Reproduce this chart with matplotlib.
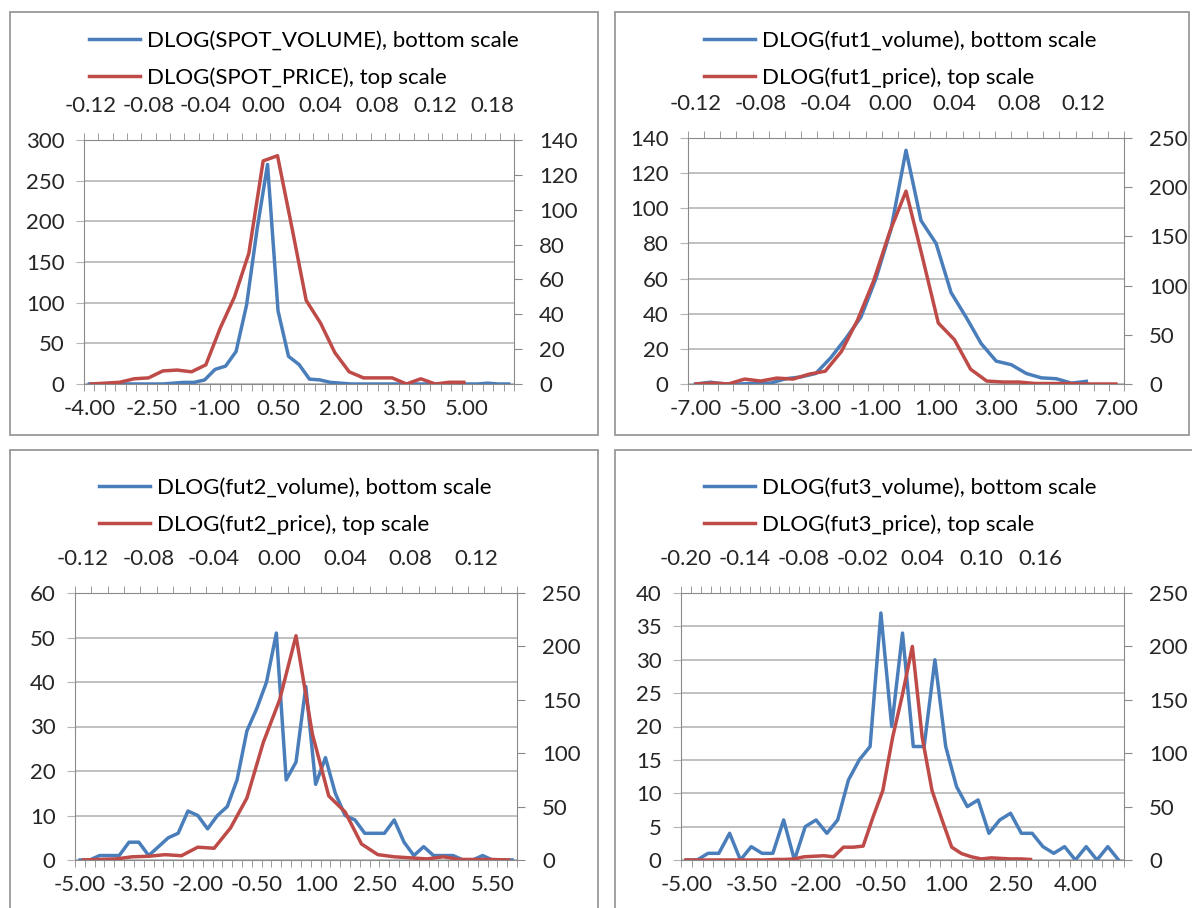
import matplotlib.pyplot as plt
from matplotlib.patches import Rectangle
import numpy as np

plt.rcParams['font.family'] = ['Lato', 'DejaVu Sans']

W, H = 1192, 908
BLUE = '#4a7ebb'
RED = '#be4b48'
GRID = '#b5b5b5'
AXIS = '#8a8a8a'
FS = 16

# ---- data (bottom scale = volume, top scale = price; one value per category) ----
spot_volume = [0, 0, 0, 0, 0, 0, 0, 0, 1, 2, 2, 5, 18, 22, 40, 97, 190, 270, 90, 34,
               24, 6, 5, 2, 1, 0, 0, 0, 0, 0, 0, 0, 0, 0, 0, 0, 0, 0, 1, 0, 0]
spot_price = [0, 0.5, 1, 3, 3.5, 7.5, 8, 7, 11, 32, 50, 75, 128, 131, 90, 48, 35, 18,
              7, 3.5, 3.5, 3.5, 0, 3, 0, 1, 1]
spot_bottom_labels = ['-4.00', '-2.50', '-1.00', '0.50', '2.00', '3.50', '5.00']
spot_top_labels = ['-0.12', '-0.08', '-0.04', '0.00', '0.04', '0.08', '0.12', '0.18']

fut1_volume = [0, 1, 0, 0, 0.5, 0.5, 3, 4, 6, 15, 26, 38, 60, 88, 133, 93, 80, 52,
               38, 23, 13, 11, 6, 3.5, 3, 0.5, 1.5]
fut1_price = [0, 1, 0, 5, 3, 6, 5, 10, 13, 33, 65, 105, 155, 196, 130, 62, 45, 15,
              3, 2, 2, 0.5, 0.5, 0.5, 0, 0, 0]
fut1_bottom_labels = ['-7.00', '-5.00', '-3.00', '-1.00', '1.00', '3.00', '5.00', '7.00']
fut1_top_labels = ['-0.12', '-0.08', '-0.04', '0.00', '0.04', '0.08', '0.12']

fut2_volume = [0, 0, 1, 1, 1, 4, 4, 1, 3, 5, 6, 11, 10, 7, 10, 12, 18, 29, 34, 40,
               51, 18, 22, 39, 17, 23, 15, 10, 9, 6, 6, 6, 9, 4, 1, 3, 1, 1, 1, 0,
               0, 1, 0, 0, 0]
fut2_price = [0, 0.5, 1, 3, 3.5, 5, 4, 12, 11, 30, 58, 110, 150, 210, 118, 60, 45, 15,
              5, 3, 2, 1, 3, 0.5, 0.5, 0.5, 0]
fut2_bottom_labels = ['-5.00', '-3.50', '-2.00', '-0.50', '1.00', '2.50', '4.00', '5.50']
fut2_top_labels = ['-0.12', '-0.08', '-0.04', '0.00', '0.04', '0.08', '0.12']

fut3_volume = [0, 0, 1, 1, 4, 0, 2, 1, 1, 6, 0, 5, 6, 4, 6, 12, 15, 17, 37, 20,
               34, 17, 17, 30, 17, 11, 8, 9, 4, 6, 7, 4, 4, 2, 1, 2, 0, 2, 0, 2, 0]
fut3_price = [0, 0, 0, 0, 0, 0, 0, 0, 0, 0.5, 0.5, 1, 3, 3.5, 4, 3, 12, 12, 13, 40,
              65, 115, 155, 200, 115, 65, 38, 12, 6, 3, 1, 2, 1.5, 1, 1, 0.5]
fut3_bottom_labels = ['-5.00', '-3.50', '-2.00', '-0.50', '1.00', '2.50', '4.00']
fut3_top_labels = ['-0.20', '-0.14', '-0.08', '-0.02', '0.04', '0.10', '0.16']


def rect(x0, y0, x1, y1):
    return [x0 / W, 1 - y1 / H, (x1 - x0) / W, (y1 - y0) / H]


def cat_axis(axis, n, labels, every):
    axis.set_ticks(np.arange(n + 1) - 0.5, minor=True)
    axis.set_ticks(np.arange(len(labels)) * every)
    axis.set_ticklabels(labels)


def draw_panel(fig, box, area, legend_xy, vol, price, nb, nt, bl, be, tl, te,
               lmax, lstep, rmax, rstep, vol_name, price_name):
    fig.patches.append(Rectangle((box[0] / W, 1 - box[3] / H), (box[2] - box[0]) / W,
                                 (box[3] - box[1]) / H, transform=fig.transFigure,
                                 fill=False, ec='#999999', lw=1.3))
    ax = fig.add_axes(rect(*area))
    ax2 = fig.add_axes(rect(*area), facecolor='none')

    lv, = ax.plot(np.arange(len(vol)), vol, color=BLUE, lw=2.5, solid_joinstyle='round')
    lp, = ax2.plot(np.arange(len(price)), price, color=RED, lw=2.5, solid_joinstyle='round')

    ax.set_xlim(-0.5, nb - 0.5)
    ax.set_ylim(0, lmax)
    ax.set_yticks(np.arange(0, lmax + 0.1, lstep))
    ax.grid(axis='y', color=GRID, lw=1.2)
    cat_axis(ax.xaxis, nb, bl, be)
    for s in ['top', 'right']:
        ax.spines[s].set_visible(False)
    for s in ['left', 'bottom']:
        ax.spines[s].set_color(AXIS)
    ax.tick_params(axis='x', which='major', length=0, pad=11, labelsize=FS, colors='#262626')
    ax.tick_params(axis='x', which='minor', length=5, color=AXIS, direction='out')
    ax.tick_params(axis='y', length=6, color=GRID, pad=8, labelsize=FS, labelcolor='#262626')

    ax2.set_xlim(-0.5, nt - 0.5)
    ax2.set_ylim(0, rmax)
    ax2.set_yticks(np.arange(0, rmax + 0.1, rstep))
    ax2.xaxis.tick_top()
    ax2.yaxis.tick_right()
    cat_axis(ax2.xaxis, nt, tl, te)
    for s in ['bottom', 'left']:
        ax2.spines[s].set_visible(False)
    for s in ['top', 'right']:
        ax2.spines[s].set_color(AXIS)
    ax2.tick_params(axis='x', which='major', length=0, pad=17, labelsize=FS, colors='#262626')
    ax2.tick_params(axis='x', which='minor', length=5, color=AXIS, direction='out')
    ax2.tick_params(axis='y', length=6, color=AXIS, pad=12, labelsize=FS, labelcolor='#262626')

    fig.legend([lv, lp], [vol_name, price_name],
               loc='upper left', bbox_to_anchor=(legend_xy[0] / W, 1 - legend_xy[1] / H),
               frameon=False, fontsize=FS, handlelength=2.3, handletextpad=0.3,
               labelspacing=0.75, borderpad=0, borderaxespad=0)


fig = plt.figure(figsize=(W / 100, H / 100), dpi=100)

draw_panel(fig, (10, 12, 598, 435), (84, 140, 514, 384), (89, 31),
           spot_volume, spot_price, 41, 30, spot_bottom_labels, 6, spot_top_labels, 4,
           300, 50, 140, 20,
           'DLOG(SPOT_VOLUME), bottom scale', 'DLOG(SPOT_PRICE), top scale')
draw_panel(fig, (615, 12, 1189, 435), (688, 138, 1124, 384), (704, 31),
           fut1_volume, fut1_price, 29, 27, fut1_bottom_labels, 4, fut1_top_labels, 4,
           140, 20, 250, 50,
           'DLOG(fut1_volume), bottom scale', 'DLOG(fut1_price), top scale')
draw_panel(fig, (10, 450, 598, 912), (75, 593, 517, 860), (99, 478),
           fut2_volume, fut2_price, 45, 27, fut2_bottom_labels, 6, fut2_top_labels, 4,
           60, 10, 250, 50,
           'DLOG(fut2_volume), bottom scale', 'DLOG(fut2_price), top scale')
draw_panel(fig, (615, 450, 1195, 912), (681, 593, 1124, 860), (704, 478),
           fut3_volume, fut3_price, 41, 45, fut3_bottom_labels, 6, fut3_top_labels, 6,
           40, 5, 250, 50,
           'DLOG(fut3_volume), bottom scale', 'DLOG(fut3_price), top scale')

fig.savefig('out.png', dpi=100)
